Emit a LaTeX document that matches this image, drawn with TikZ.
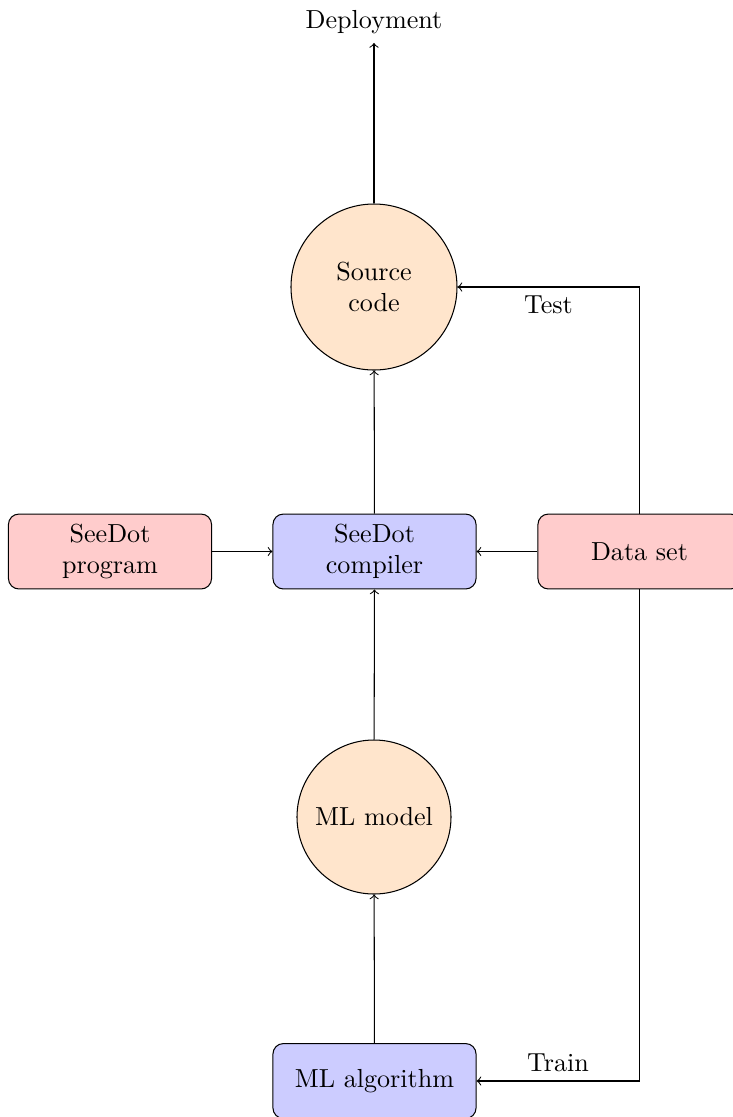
\documentclass[tikz,border=0pt]{standalone}
\usetikzlibrary{positioning}
\begin{document}
\begin{tikzpicture}[x=0.3831pt,y=-0.3831pt,
  box/.style={draw,rounded corners=4pt,minimum width=77.8pt,minimum height=28.7pt,align=center,inner sep=2pt},
  redbox/.style={box,fill=red!20},
  bluebox/.style={box,fill=blue!20},
  bubble/.style={draw,circle,fill=orange!20,align=center,inner sep=1pt},
  arr/.style={->}]
\useasboundingbox (0,0) rectangle (733,1117);
\node (dep) at (374,22) {Deployment};
\node[bubble,minimum size=63.6pt] (src) at (374,287) {Source\\code};
\node[bluebox] (comp) at (374.5,551.5) {SeeDot\\compiler};
\node[redbox] (prog) at (110,551.5) {SeeDot\\program};
\node[redbox] (data) at (639.5,551.5) {Data set};
\node[bubble,minimum size=59pt] (mlm) at (374,817) {ML model};
\node[bluebox] (mla) at (374.5,1081) {ML algorithm};
\draw[arr] (src) -- (dep);
\draw[arr] (comp) -- (src);
\draw[arr] (prog) -- (comp);
\draw[arr] (data) -- (comp);
\draw[arr] (mlm) -- (comp);
\draw[arr] (mla) -- (mlm);
\draw[arr] (data.north) |- node[pos=0.75,below] {Test} (src.east);
\draw[arr] (data.south) |- node[pos=0.75,above] {Train} (mla.east);
\end{tikzpicture}
\end{document}
